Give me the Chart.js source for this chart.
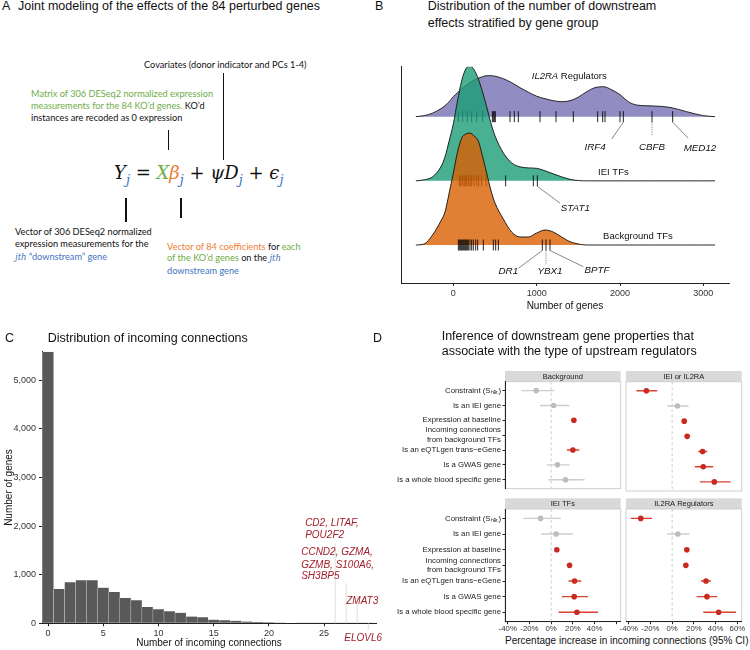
<!DOCTYPE html>
<html>
<head>
<meta charset="utf-8">
<script src="https://cdn.jsdelivr.net/npm/chart.js@4.4.1/dist/chart.umd.min.js"></script>
<style>
html,body{margin:0;padding:0;background:#fff;}
#root{position:relative;width:750px;height:650px;overflow:hidden;font-family:'Liberation Sans',Arial,sans-serif;color:#111;}
.tx{position:absolute;white-space:nowrap;}
.hd{font-size:12.5px;line-height:15px;color:#111;}
.an{font-family:Lato,'Open Sans',sans-serif;font-size:9.2px;color:#111;}
.gr{color:#70ad47;} .or{color:#ed7d31;} .bl{color:#4472c4;}
.mi{font-family:'DejaVu Serif',serif;font-style:italic;font-size:8.5px;}
.vl{position:absolute;background:#111;width:1.6px;}
canvas{position:absolute;}
.eq{font-family:'DejaVu Serif',serif;font-size:18px;line-height:24px;white-space:pre;}
.eq i{font-style:italic;}
.eq .sb{font-size:13px;position:relative;top:5px;font-style:italic;color:#4472c4;}
</style>
</head>
<body>
<div id="root">
  <canvas id="cB" width="420" height="275" style="left:330px;top:40px;"></canvas>
  <canvas id="cC" width="392" height="310" style="left:0px;top:340px;"></canvas>
  <canvas id="cD1" width="245" height="127" style="left:380px;top:368px;"></canvas>
  <canvas id="cD2" width="138" height="127" style="left:612px;top:368px;"></canvas>
  <canvas id="cD3" width="245" height="140" style="left:380px;top:495px;"></canvas>
  <canvas id="cD4" width="138" height="140" style="left:612px;top:495px;"></canvas>

  <!-- Panel A -->
  <div class="tx hd" style="left:2px;top:-1px;">A</div>
  <div class="tx hd" style="left:18px;top:-1px;">Joint modeling of the effects of the 84 perturbed genes</div>
  <div class="tx an" style="left:144px;top:59px;line-height:12px;">Covariates (donor indicator and PCs 1-4)</div>
  <div class="vl" style="left:222.5px;top:73px;height:87px;"></div>
  <div class="tx an" style="left:31px;top:88px;line-height:12px;"><span class="gr">Matrix of 306 DESeq2 normalized expression</span><br><span class="gr">measurements for the 84 KO’d genes.</span> KO’d<br>instances are recoded as 0 expression</div>
  <div class="vl" style="left:167.5px;top:130px;height:20px;"></div>
  <div class="tx eq" style="left:114px;top:161px;"><i>Y</i><span class="sb">j</span> = <i class="gr">X</i><i class="or">β</i><span class="sb">j</span> + <i>ψD</i><span class="sb">j</span> + <i>ϵ</i><span class="sb">j</span></div>
  <div class="vl" style="left:125.2px;top:198px;height:24px;"></div>
  <div class="vl" style="left:180.2px;top:198px;height:20px;"></div>
  <div class="tx an" style="left:15px;top:225.5px;line-height:12.5px;">Vector of 306 DESeq2 normalized<br>expression measurements for the<br><span class="bl"><span class="mi">jth</span> “downstream” gene</span></div>
  <div class="tx an" style="left:167px;top:240.5px;line-height:11.8px;"><span class="or">Vector of 84 coefficients</span> for <span class="gr">each</span><br><span class="gr">of the KO’d genes</span> on the <span class="bl mi">jth</span><br><span class="bl">downstream gene</span></div>

  <!-- Panel headings -->
  <div class="tx hd" style="left:375px;top:-1px;">B</div>
  <div class="tx hd" style="left:427.7px;top:-1.6px;line-height:16.6px;">Distribution of the number of downstream<br>effects stratified by gene group</div>
  <div class="tx hd" style="left:5px;top:330.8px;">C</div>
  <div class="tx hd" style="left:47.7px;top:330.8px;">Distribution of incoming connections</div>
  <div class="tx hd" style="left:373px;top:330.8px;">D</div>
  <div class="tx hd" style="left:441.7px;top:329.2px;">Inference of downstream gene properties that<br>associate with the type of upstream regulators</div>
  <div class="tx" style="left:505px;width:237px;text-align:center;top:634.7px;font-size:10px;line-height:12px;color:#111;">Percentage increase in incoming connections (95% CI)</div>
</div>

<script>
// ================= DATA =================
// ---- Panel B: ridgeline of number of downstream genes ----
const ridgeGroups = ['Background TFs', 'IEI TFs', 'IL2RA Regulators'];
const densityX = [-450,-350,-250,-150,-100,-50,0,50,100,150,200,250,300,350,400,450,500,600,700,800,900,1000,1100,1200,1300,1400,1500,1600,1700,1800,1900,2000,2100,2200,2400,2600,2800,3000,3140];
const densityBackground = [0,0.016,0.156,0.374,0.514,0.81,1.121,1.449,1.667,1.729,1.745,1.698,1.62,1.386,1.121,0.857,0.654,0.405,0.202,0.125,0.125,0.187,0.234,0.202,0.125,0.051,0.016,0,0,0,0,0,0,0,0,0,0,0,0];
const densityIEI = [0,0.016,0.062,0.218,0.374,0.623,0.888,1.246,1.558,1.745,1.791,1.729,1.589,1.386,1.153,0.903,0.701,0.436,0.28,0.218,0.202,0.195,0.156,0.109,0.062,0.023,0.005,0,0,0,0,0,0,0,0,0,0,0,0];
const densityIL2RA = [0,0.016,0.055,0.125,0.171,0.234,0.312,0.374,0.436,0.483,0.53,0.569,0.6,0.623,0.639,0.639,0.631,0.592,0.53,0.452,0.382,0.319,0.28,0.249,0.234,0.249,0.304,0.389,0.452,0.467,0.42,0.343,0.234,0.182,0.167,0.145,0.078,0.016,0];
const rugBackground = [60,72,84,96,108,120,132,144,156,168,180,200,220,240,268,292,360,480,508,540,1068,1112,1160];
const rugIEI = [72,88,108,128,144,160,180,200,220,248,280,304,340,392,628,960,1008];
const rugIL2RA = [60,112,168,220,280,352,468,480,492,504,680,732,780,1040,1232,1440,1732,1792,1820,2000,2040,2384,2632];
const ridgeTicksX = [0, 1000, 2000, 3000];
const labelledGenesB = ['IRF4','CBFB','MED12','STAT1','DR1','YBX1','BPTF'];
const labelledGroupB = [2, 2, 2, 1, 0, 0, 0];
const labelledValueB = [2040, 2384, 2632, 1008, 1068, 1112, 1160];

// ---- Panel C: histogram of incoming connections ----
const incomingBins = [0,1,2,3,4,5,6,7,8,9,10,11,12,13,14,15,16,17,18,19,20,21,22,23,24,25,26,27,28,29];
const incomingCounts = [5590,706,843,885,885,733,644,520,473,335,288,247,218,140,123,74,62,50,35,27,20,15,10,8,5,3,3,5,1,1];
const histTicksX = [0,5,10,15,20,25];
const histTicksY = [0,1000,2000,3000,4000,5000];
const annotatedBins = [26, 27, 28, 29];
const annotatedGenes = [['CD2, LITAF,','POU2F2'], ['CCND2, GZMA,','GZMB, S100A6,','SH3BP5'], ['ZMAT3'], ['ELOVL6']];

// ---- Panel D: forest plots ----
const propertyLabels = ['Constraint (Sₕₑₜ)', 'Is an IEI gene', 'Expression at baseline', ['Incoming connections','from background TFs'], 'Is an eQTLgen trans−eGene', 'Is a GWAS gene', 'Is a whole blood specific gene'];
const facetNames = ['Background', 'IEI or IL2RA', 'IEI TFs', 'IL2RA Regulators'];
const estBackground = [-13.8, 2.2, 20.9, null, 20.0, 5.8, 13.2];
const loBackground  = [-27.4, -10.2, 19.9, null, 14.5, -4.0, -2.5];
const hiBackground  = [2.8, 16.6, 21.9, null, 25.8, 16.9, 30.8];
const sigBackground = [0, 0, 1, 0, 1, 0, 0];
const estIEIorIL2RA = [-23.7, 4.9, 11.1, 13.8, 28.0, 28.6, 38.8];
const loIEIorIL2RA  = [-32.9, -4.6, 10.3, 13.0, 24.0, 20.9, 25.5];
const hiIEIorIL2RA  = [-13.8, 15.1, 11.9, 14.6, 32.3, 37.8, 53.8];
const sigIEIorIL2RA = [1, 0, 1, 1, 1, 1, 1];
const estIEITFs = [-9.8, 4.6, 5.2, 16.9, 21.5, 21.2, 23.7];
const loIEITFs  = [-25.5, -8.9, 4.4, 15.9, 16.0, 9.8, 6.8];
const hiIEITFs  = [8.9, 20.0, 6.0, 17.9, 27.7, 33.8, 43.1];
const sigIEITFs = [0, 0, 1, 1, 1, 1, 1];
const estIL2RAReg = [-28.9, 5.2, 13.5, 12.6, 31.1, 32.0, 42.8];
const loIL2RAReg  = [-38.2, -4.6, 12.7, 11.8, 26.5, 22.5, 28.6];
const hiIL2RAReg  = [-18.5, 15.7, 14.3, 13.4, 35.7, 41.5, 58.8];
const sigIL2RAReg = [1, 0, 1, 1, 1, 1, 1];
const pctTicks = [-40, -20, 0, 20, 40, 60];
const zeroRef = 0;

// ================= STYLE / LAYOUT =================
const FONT = "'Liberation Sans', Arial, sans-serif";
Chart.defaults.font.family = FONT;
Chart.defaults.color = '#333';
Chart.defaults.animation = false;
Chart.defaults.events = [];
Chart.defaults.plugins.legend.display = false;
Chart.defaults.plugins.tooltip.enabled = false;
const common = {responsive:false, maintainAspectRatio:false, devicePixelRatio:1, animation:false};
const AX = '#222';

// ---------- Panel B ----------
const ridgeFill = ['rgba(217,95,2,0.8)', 'rgba(27,158,119,0.8)', 'rgba(117,112,179,0.8)'];
const densities = [densityBackground, densityIEI, densityIL2RA];
const rugs = [rugBackground, rugIEI, rugIL2RA];
const dsB = [];
ridgeGroups.forEach((g, k) => {
  dsB.push({label:g, data: densityX.map((x, i) => ({x, y: k + densities[k][i]})),
    showLine:true, fill:{value:k}, backgroundColor:ridgeFill[k], borderColor:'#111', borderWidth:0.9,
    pointRadius:0, cubicInterpolationMode:'monotone', order:2*k+2});
  dsB.push({label:g+' genes', data: rugs[k].map(x => ({x, y:k})), showLine:false,
    pointStyle:'line', pointRotation:90, pointRadius:5.5, pointBorderColor:'rgba(0,0,0,0.85)',
    pointBorderWidth:1, pointBackgroundColor:'#000', order:2*k+1});
});
const groupLabelLayout = [ {x:1797, dy:-9, parts:[['Background TFs', false]]},
                           {x:1737, dy:-8.3, parts:[['IEI TFs', false]]},
                           {x:941, dy:-40, parts:[['IL2RA', true], [' Regulators', false]]} ];
const geneLayout = {
  IRF4:{lx:-11.6, ly:22.3, tx:-28.3, ty:30.6, dash:false},
  CBFB:{lx:0, ly:18.3, tx:0, ty:30.6, dash:true},
  MED12:{lx:15.6, ly:21.6, tx:27.3, ty:31.6, dash:false},
  STAT1:{lx:22.7, ly:22.3, tx:38, ty:27.3, dash:false},
  DR1:{lx:-24, ly:23.3, tx:-34, ty:26.7, dash:false},
  YBX1:{lx:0, ly:20, tx:4, ty:26.7, dash:true},
  BPTF:{lx:33.3, ly:21.7, tx:47, ty:25.7, dash:false}
};
const ridgePlugin = {
  id:'ridgeLabels',
  afterDatasetsDraw(chart){
    const {ctx, scales:{x, y}} = chart;
    ctx.save();
    ctx.fillStyle = '#111'; ctx.textBaseline = 'middle';
    groupLabelLayout.forEach((gl, k) => {
      let px = x.getPixelForValue(gl.x); const py = y.getPixelForValue(k) + gl.dy;
      gl.parts.forEach(([t, it]) => {
        ctx.font = (it ? 'italic ' : '') + '9.5px ' + FONT;
        ctx.textAlign = 'left'; ctx.fillText(t, px, py);
        px += ctx.measureText(t).width;
      });
    });
    labelledGenesB.forEach((g, i) => {
      const L = geneLayout[g];
      const px = x.getPixelForValue(labelledValueB[i]);
      const by = y.getPixelForValue(labelledGroupB[i]);
      ctx.strokeStyle = '#555'; ctx.lineWidth = 0.7;
      ctx.setLineDash(L.dash ? [1.2, 1.2] : []);
      ctx.beginPath(); ctx.moveTo(px, by + 5.5); ctx.lineTo(px + L.lx, by + L.ly); ctx.stroke();
      ctx.setLineDash([]);
      ctx.font = 'italic 9.8px ' + FONT; ctx.textAlign = 'center'; ctx.fillStyle = '#111';
      ctx.fillText(g, px + L.tx, by + L.ty);
    });
    ctx.restore();
  }
};
new Chart(document.getElementById('cB'), {
  type:'line',
  data:{datasets:dsB},
  options:{...common,
    layout:{padding:{top:26.7, right:21, left:0, bottom:0}},
    scales:{
      x:{type:'linear', min:-628, max:3308,
        grid:{display:true, drawOnChartArea:false, drawTicks:true, tickLength:3, tickColor:AX},
        border:{display:true, color:AX, width:1},
        ticks:{font:{size:9}, color:'#333', padding:2, maxRotation:0, autoSkip:false, callback:v => String(v)},
        afterBuildTicks:s => { s.ticks = ridgeTicksX.map(v => ({value:v})); },
        title:{display:true, text:'Number of genes', font:{size:10}, color:'#111', padding:{top:0, bottom:2.3}},
        afterFit:s => { s.height = 32; }},
      y:{type:'linear', min:-0.592, max:2.779,
        grid:{display:false}, ticks:{display:false},
        border:{display:true, color:AX, width:1},
        afterFit:s => { s.width = 71; }}
    }
  },
  plugins:[ridgePlugin]
});

// ---------- Panel C ----------
const annoLayout = [
  {lineTop:-80.3, lineBot:0, tx:-30, ty:[-100, -88.3]},
  {lineTop:-40.3, lineBot:0, tx:-45, ty:[-70.6, -58.3, -46.6]},
  {lineTop:-28.3, lineBot:0, tx:-11, ty:[-21.6]},
  {lineTop:0, lineBot:7, tx:-24, ty:[14.7]}
];
const histAnnoPlugin = {
  id:'histAnno',
  afterDraw(chart){
    const {ctx, scales:{x, y}} = chart;
    const base = y.getPixelForValue(0);
    ctx.save();
    annotatedBins.forEach((b, i) => {
      const px = x.getPixelForValue(b), L = annoLayout[i];
      ctx.strokeStyle = '#d6d6d6'; ctx.lineWidth = 0.8;
      ctx.beginPath(); ctx.moveTo(px, base + L.lineTop); ctx.lineTo(px, base + L.lineBot); ctx.stroke();
      ctx.font = 'italic 10px ' + FONT; ctx.fillStyle = '#a11d27';
      ctx.textAlign = 'left'; ctx.textBaseline = 'middle';
      annotatedGenes[i].forEach((t, j) => ctx.fillText(t, px + L.tx, base + L.ty[j]));
    });
    ctx.restore();
  }
};
new Chart(document.getElementById('cC'), {
  type:'bar',
  data:{datasets:[{label:'Number of genes', data: incomingBins.map((b, i) => ({x:b, y:incomingCounts[i]})),
    backgroundColor:'#595959', borderColor:'#cfcfcf', borderWidth:{left:0.5, right:0.5, top:0, bottom:0},
    barPercentage:1, categoryPercentage:1, borderSkipped:false}]},
  options:{...common,
    layout:{padding:{top:11.7, right:16, left:0, bottom:0}},
    scales:{
      x:{type:'linear', min:-0.55, max:29.7, offset:false,
        grid:{display:true, offset:false, drawOnChartArea:false, drawTicks:true, tickLength:3, tickColor:AX},
        border:{display:true, color:AX, width:1},
        ticks:{font:{size:9}, color:'#333', padding:2, maxRotation:0, autoSkip:false},
        afterBuildTicks:s => { s.ticks = histTicksX.map(v => ({value:v})); },
        title:{display:true, text:'Number of incoming connections', font:{size:10}, color:'#111', padding:{top:0, bottom:1}},
        afterFit:s => { s.height = 26.7; }},
      y:{type:'linear', min:0, max:5590,
        grid:{display:true, drawOnChartArea:false, drawTicks:true, tickLength:3, tickColor:AX},
        border:{display:true, color:AX, width:1},
        ticks:{font:{size:9}, color:'#333', padding:3, autoSkip:false,
          callback:v => v.toLocaleString('en-US')},
        afterBuildTicks:s => { s.ticks = histTicksY.map(v => ({value:v})); },
        title:{display:true, text:'Number of genes', font:{size:10}, color:'#111', padding:{top:3, bottom:0}},
        afterFit:s => { s.width = 42; }}
    }
  },
  plugins:[histAnnoPlugin]
});

// ---------- Panel D ----------
const facetEst = [estBackground, estIEIorIL2RA, estIEITFs, estIL2RAReg];
const facetLo = [loBackground, loIEIorIL2RA, loIEITFs, loIL2RAReg];
const facetHi = [hiBackground, hiIEIorIL2RA, hiIEITFs, hiIL2RAReg];
const facetSig = [sigBackground, sigIEIorIL2RA, sigIEITFs, sigIL2RAReg];
const RED = '#c92a1f', RED_LINE = '#d8402f', GREY = '#bdbdbd', GREY_LINE = '#cdcdcd';
const facetPlugin = {
  id:'facet',
  beforeDraw(chart){
    const {ctx, chartArea:a} = chart;
    const name = chart.options.plugins.facet.title;
    ctx.save();
    ctx.fillStyle = '#d9d9d9';
    ctx.fillRect(a.left, a.top - 10.7, a.right - a.left, 10.7);
    ctx.fillStyle = '#1a1a1a'; ctx.font = '7.5px ' + FONT;
    ctx.textAlign = 'center'; ctx.textBaseline = 'middle';
    ctx.fillText(name, (a.left + a.right) / 2, a.top - 5.2);
    ctx.strokeStyle = '#cfcfcf'; ctx.lineWidth = 1;
    ctx.strokeRect(a.left, a.top, a.right - a.left, a.bottom - a.top);
    ctx.restore();
  }
};
function makeFacet(id, fi, o){
  const est = facetEst[fi], lo = facetLo[fi], hi = facetHi[fi], sig = facetSig[fi];
  const ds = [];
  ds.push({data:[{x:zeroRef, y:-0.6}, {x:zeroRef, y:6.6}], borderColor:'#c2c2c2', borderWidth:0.8,
    borderDash:[3, 2.5], pointRadius:0, order:3});
  est.forEach((v, i) => {
    if (v === null) return;
    ds.push({data:[{x:lo[i], y:i}, {x:hi[i], y:i}], borderColor: sig[i] ? RED_LINE : GREY_LINE,
      borderWidth:1.4, pointRadius:0, order:2});
  });
  const pts = [], cols = [];
  est.forEach((v, i) => { if (v === null) return; pts.push({x:v, y:i}); cols.push(sig[i] ? RED : GREY); });
  ds.push({data:pts, showLine:false, pointRadius:2.8, pointBackgroundColor:cols, pointBorderColor:cols,
    pointBorderWidth:0, order:1});
  const xScale = {type:'linear', min:-42.5, max:64, display:o.showX,
    grid:{display:true, drawOnChartArea:false, drawTicks:true, tickLength:2.5, tickColor:AX},
    border:{display:true, color:AX, width:1},
    ticks:{font:{size:7.8}, color:'#333', padding:0, maxRotation:0, autoSkip:false,
      callback:v => (o.hide60 && v === 60) ? '' : v + '%'},
    afterBuildTicks:s => { s.ticks = pctTicks.map(v => ({value:v})); }};
  if (o.showX) xScale.afterFit = s => { s.height = 13.3; };
  const yScale = {type:'linear', min:-0.6, max:6.6, reverse:true, display:o.showY,
    grid:{display:true, drawOnChartArea:false, drawTicks:true, tickLength:2.5, tickColor:AX},
    border:{display:true, color:AX, width:1},
    ticks:{font:{size:7.8, lineHeight:1.25}, color:'#222', padding:1.5, autoSkip:false,
      callback:v => propertyLabels[v]},
    afterBuildTicks:s => { s.ticks = propertyLabels.map((_, i) => ({value:i})); }};
  if (o.showY) yScale.afterFit = s => { s.width = 125; };
  return new Chart(document.getElementById(id), {
    type:'line',
    data:{datasets:ds},
    options:{...common,
      layout:{padding:o.padding},
      plugins:{facet:{title:facetNames[fi]}},
      scales:{x:xScale, y:yScale}
    },
    plugins:[facetPlugin]
  });
}
makeFacet('cD1', 0, {showX:false, showY:true, padding:{top:13.7, right:4.3, bottom:2.3, left:0}});
makeFacet('cD2', 1, {showX:false, showY:false, padding:{top:13.7, right:8.3, bottom:2.3, left:14}});
makeFacet('cD3', 2, {showX:true, showY:true, hide60:true, padding:{top:14, right:4.3, bottom:0, left:0}});
makeFacet('cD4', 3, {showX:true, showY:false, padding:{top:14, right:8.3, bottom:0, left:14}});
</script>
</body>
</html>
